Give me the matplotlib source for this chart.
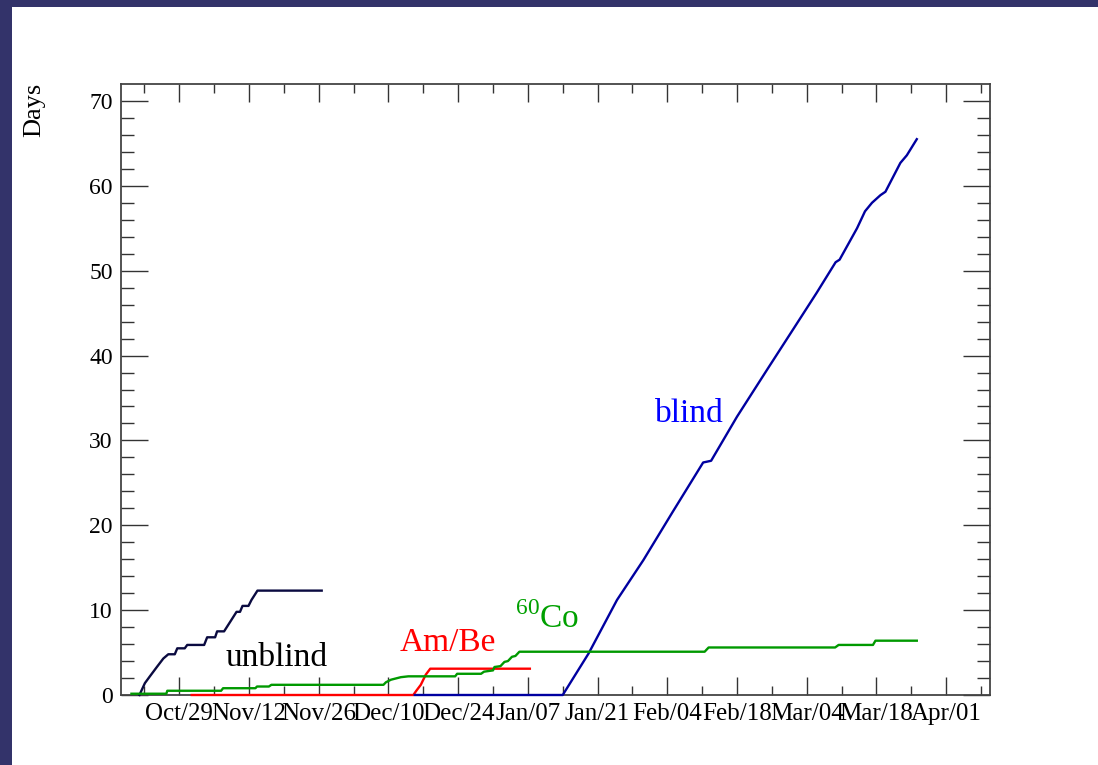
import numpy as np
import matplotlib
matplotlib.use("Agg")
import matplotlib.pyplot as plt
import matplotlib.dates as mdates
from matplotlib.patches import Rectangle
from datetime import datetime

plt.rcParams['font.family'] = ['Liberation Serif', 'DejaVu Serif']
plt.rcParams['mathtext.fontset'] = 'custom'
plt.rcParams['mathtext.rm'] = 'Liberation Serif'

# reference date for the day offsets below
t0 = datetime(2010, 10, 29)

# accumulated live time, x = days after t0, y = days
unblind_day = [-8.0, -6.9, -5.9, -4.5, -3.2, -2.2, -0.9, -0.4, 1.1, 1.6, 5.0, 5.6, 7.2, 7.6,
               9.0, 10.2, 11.5, 12.2, 12.7, 13.9, 14.5, 15.7, 28.6]
unblind_val = [0.0, 1.4, 2.2, 3.3, 4.3, 4.8, 4.8, 5.5, 5.5, 5.9, 5.9, 6.8, 6.8, 7.5,
               7.5, 8.6, 9.8, 9.8, 10.5, 10.5, 11.2, 12.3, 12.3]

co60_day = [-9.6, -2.6, -2.4, 8.4, 8.8, 15.3, 15.6, 18.0, 18.5, 41.0, 41.5, 42.5, 44.5, 46.0,
            55.4, 55.8, 60.6, 61.2, 63.0, 63.3, 64.5, 65.3, 66.0, 66.8, 67.5, 68.3,
            105.5, 106.3, 131.7, 132.4, 139.3, 139.8, 148.1]
co60_val = [0.15, 0.15, 0.5, 0.5, 0.8, 0.8, 1.0, 1.0, 1.2, 1.2, 1.5, 1.8, 2.1, 2.2,
            2.2, 2.5, 2.5, 2.75, 2.9, 3.3, 3.4, 3.9, 4.0, 4.5, 4.6, 5.1,
            5.1, 5.6, 5.6, 5.9, 5.9, 6.4, 6.4]

ambe_day = [2.5, 47.0, 47.6, 48.5, 49.5, 50.4, 70.4]
ambe_val = [0.0, 0.0, 0.5, 1.2, 2.4, 3.1, 3.1]

blind_day = [47.3, 77.0, 82.2, 87.9, 93.2, 99.0, 105.2, 106.8, 112.0, 118.0, 123.5,
             128.0, 131.8, 132.6, 136.1, 137.7, 139.1, 140.8, 141.8, 144.8, 146.1, 148.1]
blind_val = [0.0, 0.0, 4.9, 11.2, 15.9, 21.5, 27.4, 27.6, 32.8, 38.3, 43.3,
             47.4, 51.0, 51.3, 55.0, 57.0, 58.0, 58.9, 59.3, 62.7, 63.6, 65.5]

tick_dates = ['2010-10-29', '2010-11-12', '2010-11-26', '2010-12-10', '2010-12-24',
              '2011-01-07', '2011-01-21', '2011-02-04', '2011-02-18', '2011-03-04',
              '2011-03-18', '2011-04-01']


def to_num(days):
    return mdates.date2num(t0) + np.asarray(days, dtype=float)


W, H = 1098, 765
fig = plt.figure(figsize=(W / 100, H / 100), dpi=100)
fig.patch.set_facecolor('#33336a')
fig.add_artist(Rectangle((12 / W, 0), 1, 1 - 7 / H, transform=fig.transFigure,
                         facecolor='white', edgecolor='none', zorder=-1))

ax = fig.add_axes([121 / W, 1 - 695 / H, 869 / W, 611 / H])

line_kw = dict(lw=1.7, clip_on=False, zorder=3)
ax.plot(to_num(unblind_day), unblind_val, color='#0a0a40', **line_kw)
ax.plot(to_num(ambe_day), ambe_val, color='#ff0000', **line_kw)
ax.plot(to_num(blind_day), blind_val, color='#0000a0', **line_kw)
ax.plot(to_num(co60_day), co60_val, color='#009900', **line_kw)

ax.text(to_num(9.2), 3.4, 'unblind', color='black', fontsize=24, va='baseline')
ax.text(to_num(44.3), 5.2, 'Am/Be', color='#ff0000', fontsize=24, va='baseline')
ax.text(to_num(67.4), 7.9, r'$^{60}\mathrm{Co}$', color='#00a000', fontsize=24, va='baseline')
ax.text(to_num(95.5), 32.2, 'blind', color='#0000ff', fontsize=24, va='baseline')

ax.set_ylim(0, 72)
ax.set_xlim(to_num(-11.7), to_num(162.8))

major = mdates.datestr2num(tick_dates)
ax.set_xticks(major)
ax.set_xticks(np.arange(major[0] - 7, major[-1] + 8, 14), minor=True)
ax.xaxis.set_major_formatter(mdates.DateFormatter('%b/%d'))
ax.set_yticks(np.arange(0, 71, 10))
ax.set_yticks(np.arange(0, 72, 2), minor=True)

for s in ax.spines.values():
    s.set_color('#444444')
    s.set_linewidth(1.3)

ax.tick_params(which='both', direction='in', top=True, right=True, color='#333333',
               width=1.0, labelsize=17, pad=6)
ax.tick_params(axis='x', which='major', labelsize=18)
ax.tick_params(axis='x', which='major', length=13.3)
ax.tick_params(axis='x', which='minor', length=6.2)
ax.tick_params(axis='y', which='major', length=19.4)
ax.tick_params(axis='y', which='minor', length=9.4)

fig.text(34 / W, 1 - 83 / H, 'Days', rotation=90, ha='center', va='top', fontsize=19)

fig.savefig('out.png', dpi=100, facecolor=fig.get_facecolor())
